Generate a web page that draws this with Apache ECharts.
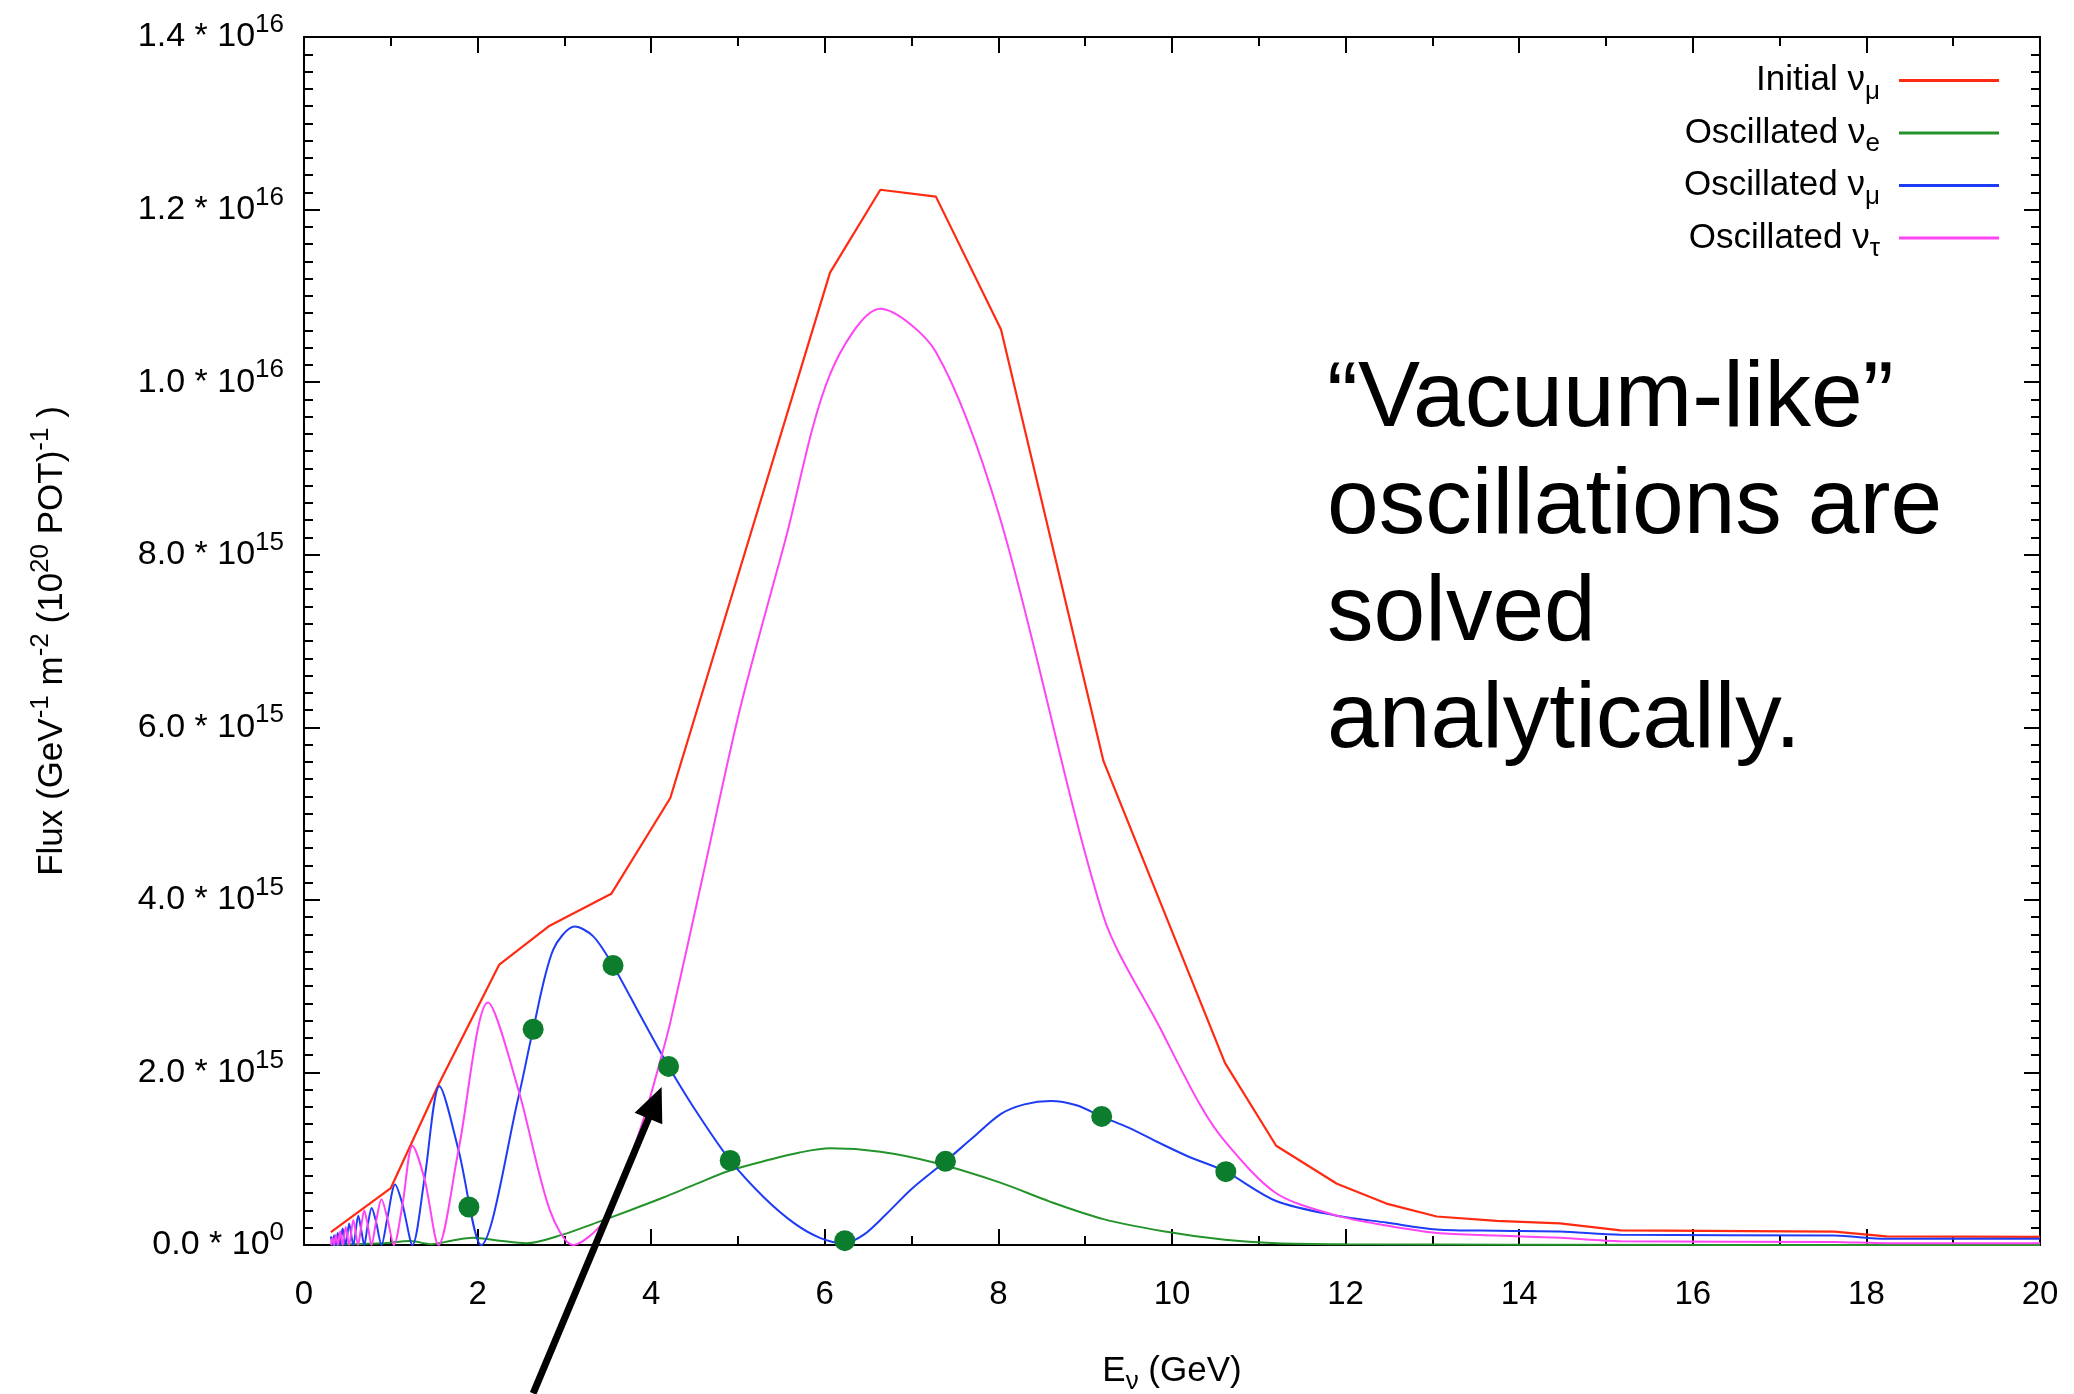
<!DOCTYPE html>
<html>
<head>
<meta charset="utf-8">
<script src="https://cdn.jsdelivr.net/npm/echarts@6/dist/echarts.min.js"></script>
<style>
  html, body { margin: 0; padding: 0; background: #ffffff; }
  #chart { width: 2074px; height: 1394px; }
</style>
</head>
<body>
<div id="chart"></div>
<script>
// Flux in units of 1e15 GeV^-1 m^-2 (1e20 POT)^-1, energy in GeV.
const initialNuMu = [
  [0.31, 0.15], [1.0, 0.66], [1.56, 1.88], [2.25, 3.25], [2.83, 3.70], [3.54, 4.07],
  [4.22, 5.18], [6.06, 11.27], [6.64, 12.23], [7.28, 12.15], [8.03, 10.61], [9.21, 5.61],
  [10.61, 2.11], [11.2, 1.15], [11.9, 0.71], [12.47, 0.48], [13.05, 0.33], [13.74, 0.28],
  [14.47, 0.25], [15.17, 0.17], [17.63, 0.156], [18.23, 0.10], [20.0, 0.095]
];

const oscNuE = [
  [0.31, 0.005], [0.9, 0.02], [1.22, 0.045], [1.47, 0.01], [1.7, 0.05], [1.95, 0.083],
  [2.25, 0.05], [2.56, 0.02], [2.98, 0.12], [3.37, 0.26], [3.75, 0.40], [4.14, 0.55],
  [4.5, 0.70], [4.9, 0.86], [5.37, 0.99], [5.7, 1.07], [6.06, 1.12], [6.64, 1.08],
  [7.28, 0.95], [8.03, 0.72], [8.6, 0.50], [9.21, 0.30], [9.9, 0.16], [10.61, 0.06],
  [11.2, 0.02], [12.0, 0.008], [14.0, 0.003], [20.0, 0.0]
];

const oscNuMu = [
  [0.31, 0.10], [0.329, 0.0], [0.347, 0.11], [0.368, 0.0], [0.39, 0.14], [0.417, 0.0],
  [0.445, 0.19], [0.481, 0.0], [0.52, 0.25], [0.568, 0.0], [0.625, 0.34], [0.657, 0.19],
  [0.694, 0.0], [0.734, 0.23], [0.78, 0.43], [0.83, 0.27], [0.893, 0.0], [0.96, 0.31],
  [1.05, 0.70], [1.135, 0.47], [1.25, 0.0], [1.39, 0.78], [1.56, 1.84], [1.78, 1.1],
  [2.04, 0.0], [2.47, 1.71], [2.64, 2.5], [2.87, 3.42], [3.12, 3.69], [3.33, 3.58],
  [3.56, 3.24], [3.88, 2.65], [4.2, 2.07], [4.55, 1.5], [4.91, 0.98], [5.3, 0.55],
  [5.65, 0.25], [5.95, 0.08], [6.22, 0.02], [6.45, 0.12], [6.7, 0.35], [7.0, 0.65],
  [7.39, 0.97], [7.7, 1.24], [8.03, 1.52], [8.3, 1.63], [8.6, 1.67], [8.9, 1.62],
  [9.21, 1.48], [9.5, 1.36], [9.86, 1.18], [10.2, 1.02], [10.61, 0.855], [11.2, 0.51],
  [11.9, 0.34], [12.47, 0.26], [13.05, 0.18], [13.74, 0.165], [14.47, 0.156], [15.17, 0.118],
  [17.63, 0.11], [18.23, 0.072], [20.0, 0.072]
];

const oscNuTau = [
  [0.31, 0.0], [0.329, 0.08], [0.347, 0.0], [0.368, 0.12], [0.39, 0.0], [0.417, 0.16],
  [0.445, 0.0], [0.481, 0.21], [0.52, 0.0], [0.568, 0.29], [0.623, 0.0], [0.657, 0.2],
  [0.694, 0.40], [0.734, 0.23], [0.778, 0.0], [0.83, 0.27], [0.893, 0.53], [0.96, 0.31],
  [1.036, 0.0], [1.135, 0.47], [1.25, 1.15], [1.39, 0.76], [1.55, 0.0], [1.78, 1.1],
  [2.12, 2.81], [2.47, 1.8], [2.83, 0.41], [3.10, 0.0], [3.44, 0.26], [3.75, 0.99],
  [3.94, 1.55], [4.10, 2.12], [4.22, 2.58], [4.6, 4.3], [5.02, 6.2], [5.54, 8.15],
  [6.06, 10.09], [6.64, 10.85], [7.28, 10.35], [8.02, 8.42], [9.21, 3.81], [9.86, 2.52],
  [10.32, 1.63], [10.61, 1.20], [11.2, 0.60], [11.9, 0.34], [12.47, 0.226], [13.05, 0.14],
  [13.74, 0.11], [14.47, 0.083], [15.17, 0.044], [17.63, 0.035], [18.23, 0.02], [20.0, 0.02]
];

// Energies at which the survival flux was sampled
const sampleNuMu = [
  [1.9, 0.44], [2.64, 2.5], [3.56, 3.24], [4.2, 2.07], [4.91, 0.98],
  [6.23, 0.05], [7.39, 0.97], [9.19, 1.49], [10.62, 0.85]
];

const xTickValues = [0, 2, 4, 6, 8, 10, 12, 14, 16, 18, 20];
const yTickMantissa = ['0.0', '2.0', '4.0', '6.0', '8.0', '1.0', '1.2', '1.4'];
const yTickExponent = ['0', '15', '15', '15', '15', '16', '16', '16'];

const seriesNames = ['Initial νμ', 'Oscillated νe', 'Oscillated νμ', 'Oscillated ντ'];
const legendText = ['Initial ν', 'Oscillated ν', 'Oscillated ν', 'Oscillated ν'];
const legendFlavour = ['μ', 'e', 'μ', 'τ'];

const COLORS = ['#ff2a12', '#23932a', '#1f3cf5', '#ff44f4'];
const DOT_COLOR = '#0b7d2c';
const FONT = '"Liberation Sans", Arial, Helvetica, sans-serif';

// Annotation arrow (data coordinates), pointing at the first crossing above 4 GeV
const arrowTip = [4.12, 1.83];
const arrowTail = [2.64, -1.72];

const chart = echarts.init(document.getElementById('chart'), null, { renderer: 'canvas' });

const txt = (size, extra) => Object.assign({ fontSize: size, fontFamily: FONT, color: '#000' }, extra || {});

function axisCommon() {
  return {
    type: 'value',
    axisLine: { show: true, onZero: false, lineStyle: { color: '#000', width: 2 } },
    axisTick: { show: true, inside: true, length: 16, lineStyle: { color: '#000', width: 2 } },
    minorTick: { show: true, length: 9, lineStyle: { color: '#000', width: 2 } },
    splitLine: { show: false },
    minorSplitLine: { show: false }
  };
}

const xBase = axisCommon();
const yBase = axisCommon();

const option = {
  animation: false,
  backgroundColor: '#ffffff',
  grid: { left: 304, top: 37, width: 1736, height: 1208, outerBoundsMode: 'none', containLabel: false },
  xAxis: [
    Object.assign({}, xBase, {
      position: 'bottom', min: 0, max: 20, interval: 2,
      minorTick: Object.assign({}, xBase.minorTick, { splitNumber: 2 }),
      axisLabel: {
        show: true, margin: 33, fontSize: 33, fontFamily: FONT, color: '#000',
        showMinLabel: true, showMaxLabel: true,
        formatter: v => String(xTickValues[Math.round(v / 2)])
      },
      name: '{n|E}{s|ν}{n| (GeV)}',
      nameLocation: 'middle', nameGap: 102,
      nameTextStyle: {
        rich: {
          n: txt(35, { lineHeight: 48 }),
          s: txt(26, { verticalAlign: 'bottom' })
        }
      }
    }),
    Object.assign({}, xBase, {
      position: 'top', min: 0, max: 20, interval: 2,
      minorTick: Object.assign({}, xBase.minorTick, { splitNumber: 2 }),
      axisLabel: { show: false }
    })
  ],
  yAxis: [
    Object.assign({}, yBase, {
      position: 'left', min: 0, max: 14, interval: 2,
      minorTick: Object.assign({}, yBase.minorTick, { splitNumber: 10 }),
      axisLabel: {
        show: true, margin: 20, showMinLabel: true, showMaxLabel: true,
        formatter: v => {
          const i = Math.round(v / 2);
          return '{m|' + yTickMantissa[i] + ' * 10}{e|' + yTickExponent[i] + '}';
        },
        rich: {
          m: txt(34, { lineHeight: 50 }),
          e: txt(26, { verticalAlign: 'top' })
        }
      },
      name: '{n|Flux (GeV}{p|-1}{n| m}{p|-2}{n| (10}{p|20}{n| POT)}{p|-1}{n| )}',
      nameLocation: 'middle', nameGap: 228, nameRotate: 90,
      nameTextStyle: {
        rich: {
          n: txt(35, { lineHeight: 48 }),
          p: txt(26, { verticalAlign: 'top' })
        }
      }
    }),
    Object.assign({}, yBase, {
      position: 'right', min: 0, max: 14, interval: 2,
      minorTick: Object.assign({}, yBase.minorTick, { splitNumber: 10 }),
      axisLabel: { show: false }
    })
  ],
  legend: {
    data: seriesNames.map(n => ({ name: n, icon: 'rect' })),
    orient: 'vertical',
    align: 'right',
    right: 75, top: 63,
    padding: 0,
    itemWidth: 100, itemHeight: 3, itemGap: 11,
    selectedMode: false,
    formatter: name => {
      const i = seriesNames.indexOf(name);
      return '{t|' + legendText[i] + '}{s|' + legendFlavour[i] + '}';
    },
    textStyle: {
      rich: {
        t: txt(35, { lineHeight: 48 }),
        s: txt(26, { verticalAlign: 'bottom', padding: [0, 14, 0, 0] })
      }
    }
  },
  graphic: [
    {
      type: 'text', id: 'note', left: 1327, top: 347, silent: true,
      style: {
        text: '“Vacuum-like”\noscillations are\nsolved\nanalytically.',
        fontSize: 93, fontFamily: FONT, lineHeight: 107, fill: '#000'
      }
    }
  ],
  series: [
    {
      name: seriesNames[0], type: 'line', data: initialNuMu, symbol: 'none', z: 2,
      lineStyle: { color: COLORS[0], width: 2.2 }, itemStyle: { color: COLORS[0] }
    },
    {
      name: seriesNames[1], type: 'line', data: oscNuE, symbol: 'none', smooth: 0.3, z: 3,
      lineStyle: { color: COLORS[1], width: 2 }, itemStyle: { color: COLORS[1] }
    },
    {
      name: seriesNames[2], type: 'line', data: oscNuMu, symbol: 'none', smooth: 0.3, z: 4,
      lineStyle: { color: COLORS[2], width: 2 }, itemStyle: { color: COLORS[2] }
    },
    {
      name: seriesNames[3], type: 'line', data: oscNuTau, symbol: 'none', smooth: 0.3, z: 5,
      lineStyle: { color: COLORS[3], width: 2 }, itemStyle: { color: COLORS[3] }
    },
    {
      name: 'samples', type: 'scatter', data: sampleNuMu, symbol: 'circle', symbolSize: 21, z: 6,
      itemStyle: { color: DOT_COLOR, opacity: 1 }
    }
  ]
};

chart.setOption(option);

// Arrow drawn in pixel space from the data-space anchors
const tip = chart.convertToPixel({ seriesIndex: 0 }, arrowTip);
const tail = chart.convertToPixel({ seriesIndex: 0 }, arrowTail);
const dx = tip[0] - tail[0], dy = tip[1] - tail[1];
const len = Math.hypot(dx, dy);
const ux = dx / len, uy = dy / len;
const headLen = 34, headHalf = 15;
const bx = tip[0] - ux * headLen, by = tip[1] - uy * headLen;
chart.setOption({
  graphic: [
    {
      type: 'line', id: 'arrowShaft', silent: true, z: 100,
      shape: { x1: tail[0], y1: tail[1], x2: bx + ux * 4, y2: by + uy * 4 },
      style: { stroke: '#000', lineWidth: 7, lineCap: 'butt' }
    },
    {
      type: 'polygon', id: 'arrowHead', silent: true, z: 100,
      shape: { points: [tip, [bx - uy * headHalf, by + ux * headHalf], [bx + uy * headHalf, by - ux * headHalf]] },
      style: { fill: '#000' }
    }
  ]
});
</script>
</body>
</html>
